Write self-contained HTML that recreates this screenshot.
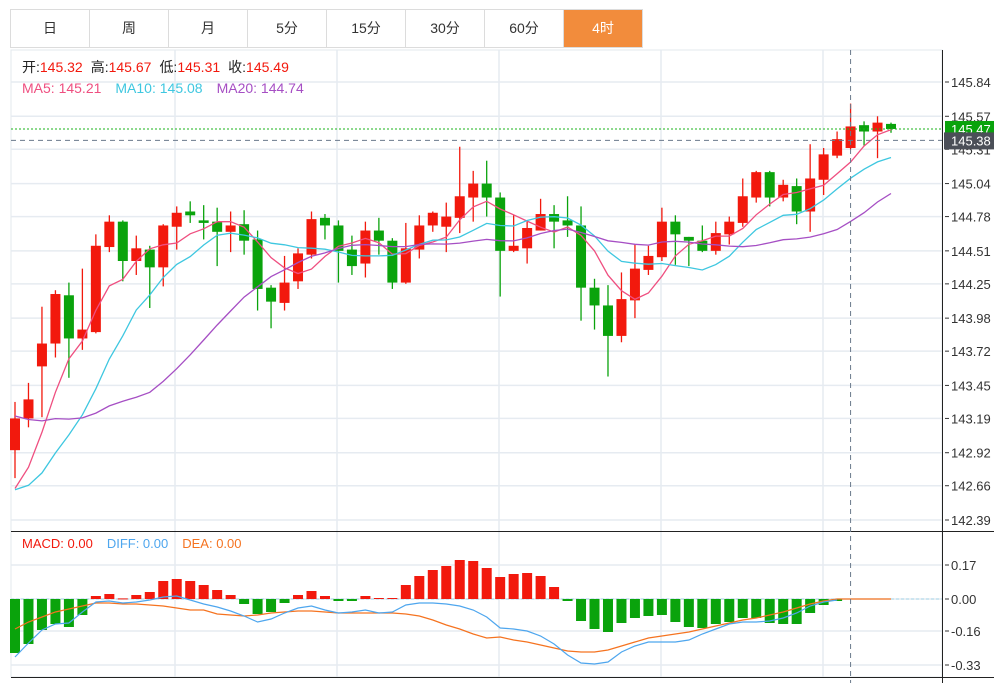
<!DOCTYPE html>
<html><head><meta charset="utf-8"><style>
body{margin:0;width:994px;height:683px;background:#fff;overflow:hidden;font-family:"Liberation Sans","Noto Sans CJK SC",sans-serif;}
#tabs{position:absolute;left:10px;top:9px;height:39px;display:flex;border:1px solid #dcdcdc;border-right:none;box-sizing:border-box;}
.tab{width:79px;height:37px;line-height:37px;text-align:center;font-size:14px;color:#333;border-right:1px solid #dcdcdc;box-sizing:border-box;}
.tab.active{background:#f28c3c;color:#fff;}
svg{position:absolute;left:0;top:0;}
</style></head><body>
<div id="tabs">
<div class="tab">日</div>
<div class="tab">周</div>
<div class="tab">月</div>
<div class="tab">5分</div>
<div class="tab">15分</div>
<div class="tab">30分</div>
<div class="tab">60分</div>
<div class="tab active">4时</div>
</div>
<svg id="chart" width="994" height="683" font-family="Liberation Sans, Noto Sans CJK SC, sans-serif"></svg>
<script>
const opens=[142.94,143.19,143.60,143.78,144.16,143.82,143.87,144.54,144.74,144.43,144.52,144.38,144.70,144.82,144.75,144.74,144.66,144.72,144.60,144.22,144.10,144.27,144.48,144.77,144.71,144.52,144.41,144.67,144.59,144.26,144.52,144.71,144.70,144.77,144.93,145.04,144.93,144.51,144.53,144.67,144.80,144.75,144.71,144.22,144.08,143.84,144.12,144.36,144.46,144.74,144.62,144.59,144.51,144.64,144.73,144.93,145.13,144.93,145.02,144.82,145.07,145.26,145.32,145.50,145.45,145.51];
const highs=[143.32,143.47,144.07,144.20,144.26,144.37,144.64,144.79,144.75,144.63,144.55,144.72,144.86,144.90,144.87,144.85,144.82,144.83,144.67,144.24,144.47,144.53,144.82,144.80,144.75,144.63,144.74,144.77,144.61,144.73,144.79,144.82,144.89,145.33,145.14,145.22,144.97,144.79,144.75,144.92,144.87,144.94,144.86,144.29,144.24,144.34,144.56,144.55,144.85,144.79,144.62,144.71,144.74,144.78,145.08,145.14,145.14,145.07,145.08,145.35,145.32,145.45,145.67,145.53,145.57,145.52];
const lows=[142.72,143.12,143.20,143.67,143.51,143.73,143.86,144.50,144.27,144.32,144.06,144.23,144.52,144.73,144.60,144.39,144.50,144.48,144.04,143.90,144.04,144.21,144.45,144.60,144.26,144.32,144.30,144.48,144.21,144.25,144.45,144.66,144.50,144.65,144.74,144.78,144.15,144.50,144.41,144.67,144.53,144.62,143.96,143.89,143.52,143.79,143.98,144.32,144.43,144.40,144.39,144.50,144.48,144.56,144.70,144.89,144.86,144.90,144.72,144.66,144.95,145.24,145.31,145.34,145.24,145.44];
const closes=[143.19,143.34,143.78,144.17,143.82,143.89,144.55,144.74,144.43,144.53,144.38,144.71,144.81,144.79,144.73,144.66,144.71,144.59,144.21,144.11,144.26,144.49,144.76,144.71,144.51,144.39,144.67,144.59,144.26,144.53,144.71,144.81,144.78,144.94,145.04,144.93,144.51,144.55,144.69,144.80,144.74,144.71,144.22,144.08,143.84,144.13,144.37,144.47,144.74,144.64,144.59,144.51,144.65,144.74,144.94,145.13,144.93,145.03,144.82,145.08,145.27,145.39,145.49,145.45,145.52,145.47];
const historyCloses=[143.9,144.0,143.8,143.9,143.7,143.8,143.6,143.7,143.9,143.6,143.0,142.8,142.6,142.4,142.3,142.5,142.4,142.6,142.5];
const macdHist=[-0.27,-0.225,-0.155,-0.125,-0.14,-0.08,0.015,0.025,0.003,0.02,0.035,0.09,0.10,0.09,0.07,0.045,0.02,-0.025,-0.075,-0.065,-0.02,0.02,0.04,0.015,-0.01,-0.01,0.015,0.005,0.005,0.07,0.115,0.145,0.165,0.195,0.19,0.155,0.11,0.125,0.13,0.115,0.06,-0.01,-0.11,-0.15,-0.165,-0.12,-0.095,-0.085,-0.08,-0.115,-0.14,-0.145,-0.125,-0.115,-0.095,-0.095,-0.12,-0.125,-0.125,-0.07,-0.03,-0.01,0,0,0,0];
const diffVals=[-0.29,-0.22,-0.155,-0.125,-0.12,-0.065,-0.015,-0.01,-0.02,-0.015,-0.005,0.01,0.015,-0.005,-0.025,-0.04,-0.06,-0.085,-0.115,-0.10,-0.07,-0.045,-0.035,-0.055,-0.07,-0.065,-0.055,-0.07,-0.065,-0.03,-0.02,-0.02,-0.025,-0.035,-0.055,-0.09,-0.145,-0.15,-0.16,-0.185,-0.225,-0.28,-0.32,-0.325,-0.315,-0.265,-0.235,-0.215,-0.215,-0.215,-0.205,-0.175,-0.15,-0.125,-0.115,-0.115,-0.11,-0.095,-0.07,-0.035,-0.015,-0.005,0,0,0,0];
const deaVals=[-0.15,-0.115,-0.09,-0.065,-0.05,-0.035,-0.02,-0.02,-0.025,-0.025,-0.03,-0.035,-0.045,-0.055,-0.055,-0.075,-0.08,-0.085,-0.08,-0.07,-0.065,-0.06,-0.06,-0.065,-0.07,-0.07,-0.07,-0.07,-0.07,-0.075,-0.085,-0.105,-0.13,-0.15,-0.175,-0.195,-0.19,-0.205,-0.215,-0.23,-0.245,-0.26,-0.265,-0.265,-0.255,-0.235,-0.215,-0.195,-0.185,-0.175,-0.165,-0.15,-0.135,-0.12,-0.105,-0.095,-0.08,-0.065,-0.045,-0.025,-0.01,0,0,0,0,0];
const priceTicks=[145.84,145.57,145.31,145.04,144.78,144.51,144.25,143.98,143.72,143.45,143.19,142.92,142.66,142.39];
const macdTicks=[0.17,0.00,-0.16,-0.33];
const lastPrice=145.47, crossPrice=145.38, crossIndex=62;

const NS='http://www.w3.org/2000/svg';
const svg=document.getElementById('chart');
function mk(tag,attrs,parent){const e=document.createElementNS(NS,tag);for(const k in attrs)e.setAttribute(k,attrs[k]);(parent||svg).appendChild(e);return e;}
const L=11,R=942;
function xOf(i){return 15+i*13.477;}
function yOf(p){return 82+(145.84-p)*(438/3.45);}
function yM(v){return 599-v*200;}
const RED='#f2190d',GREEN='#0aa30c';

// frame + grid
const grid=mk('g',{});


mk('rect',{x:L,y:50,width:R-L,height:627,fill:'none',stroke:'#e3e8ee'},grid);
priceTicks.forEach(t=>mk('line',{x1:L,x2:R,y1:yOf(t),y2:yOf(t),stroke:'#e6ebf1','stroke-width':1.5},grid));
[175,337,499,661,823].forEach(x=>mk('line',{x1:x,x2:x,y1:50,y2:677,stroke:'#e6ebf1','stroke-width':1.5},grid));
macdTicks.forEach(t=>mk('line',{x1:L,x2:R,y1:yM(t),y2:yM(t),stroke:'#e6ebf1','stroke-width':1.5},grid));
mk('line',{x1:L,x2:994,y1:531.5,y2:531.5,stroke:'#222'});
mk('line',{x1:L,x2:994,y1:677.5,y2:677.5,stroke:'#222'});
mk('line',{x1:R+0.5,x2:R+0.5,y1:50,y2:683,stroke:'#222'});

// axis labels
const ax=mk('g',{'font-size':13,fill:'#333'});


priceTicks.forEach(t=>{mk('line',{x1:R+3,x2:R+7,y1:yOf(t),y2:yOf(t),stroke:'#333'},ax);const tx=mk('text',{x:R+9,y:yOf(t)+5},ax);tx.textContent=t.toFixed(2);});
const axm=mk('g',{'font-size':13,fill:'#333'});


macdTicks.forEach(t=>{mk('line',{x1:R+3,x2:R+7,y1:yM(t),y2:yM(t),stroke:'#333'},axm);const tx=mk('text',{x:R+9,y:yM(t)+5},axm);tx.textContent=(t<0?'-':'')+Math.abs(t).toFixed(2);});

// candles
const cg=mk('g',{});


closes.forEach((c,i)=>{
  const o=opens[i],up=c>=o,col=up?RED:GREEN,x=xOf(i);
  const g=mk('g',{},cg);
  
  
  mk('line',{x1:x,x2:x,y1:yOf(highs[i]),y2:yOf(lows[i]),stroke:col,'stroke-width':1.3},g);
  const top=yOf(Math.max(o,c)),bot=yOf(Math.min(o,c));
  mk('rect',{x:x-5,y:top,width:10,height:Math.max(1.5,bot-top),fill:col},g);
});

// moving averages
const all=historyCloses.concat(closes),H=historyCloses.length;
function ma(n){return closes.map((_,i)=>{let s=0;for(let k=0;k<n;k++)s+=all[H+i-k];return s/n;});}
[[5,'#ef4f80','ma5-line'],[10,'#3ec7e0','ma10-line'],[20,'#a64fc4','ma20-line']].forEach(([n,col,name])=>{
  const pts=ma(n).map((v,i)=>xOf(i).toFixed(1)+','+yOf(v).toFixed(1)).join(' ');
  const pl=mk('polyline',{points:pts,fill:'none',stroke:col,'stroke-width':1.3});
  
  
});

// MACD
const mg=mk('g',{});


mk('line',{x1:L,x2:R,y1:yM(0),y2:yM(0),stroke:'#a8d8ea','stroke-dasharray':'3,2'},mg);
macdHist.forEach((v,i)=>{if(v===0)return;const y0=yM(0),y1=yM(v);
  const b=mk('rect',{x:xOf(i)-5,y:Math.min(y0,y1),width:10,height:Math.max(1,Math.abs(y1-y0)),fill:v>0?RED:GREEN},mg);
  
  
});
const dl=mk('polyline',{points:deaVals.map((v,i)=>xOf(i).toFixed(1)+','+yM(v).toFixed(1)).join(' '),fill:'none',stroke:'#f57320','stroke-width':1.2});


const df=mk('polyline',{points:diffVals.slice(0,62).map((v,i)=>xOf(i).toFixed(1)+','+yM(v).toFixed(1)).join(' '),fill:'none',stroke:'#4ea6ee','stroke-width':1.2});



// last price + crosshair
mk('line',{x1:L,x2:R,y1:yOf(lastPrice),y2:yOf(lastPrice),stroke:'#1ab31a','stroke-dasharray':'2,2'});
mk('line',{x1:L,x2:R,y1:yOf(crossPrice),y2:yOf(crossPrice),stroke:'#6b7a8c','stroke-dasharray':'5,4'});
mk('line',{x1:xOf(crossIndex),x2:xOf(crossIndex),y1:50,y2:683,stroke:'#6b7a8c','stroke-dasharray':'5,4'});
const lp=mk('g',{});


mk('rect',{x:R+3,y:yOf(lastPrice)-8,width:52,height:16,fill:'#0aa30c'},lp);
let t=mk('text',{x:R+9,y:yOf(lastPrice)+5,'font-size':13,fill:'#fff'},lp);t.textContent=lastPrice.toFixed(2);
const cp=mk('g',{});


mk('rect',{x:R+2,y:yOf(crossPrice)-8,width:52,height:17,fill:'#4b4f58'},cp);
t=mk('text',{x:R+9,y:yOf(crossPrice)+5,'font-size':13,fill:'#fff'},cp);t.textContent=crossPrice.toFixed(2);
</script>
<svg width="994" height="683" style="pointer-events:none" font-family="Liberation Sans, Noto Sans CJK SC, sans-serif" font-size="14">
<g>
<text x="22" y="72"><tspan fill="#222">开:</tspan><tspan fill="#f2190d">145.32</tspan><tspan fill="#222" dx="8">高:</tspan><tspan fill="#f2190d">145.67</tspan><tspan fill="#222" dx="8">低:</tspan><tspan fill="#f2190d">145.31</tspan><tspan fill="#222" dx="8">收:</tspan><tspan fill="#f2190d">145.49</tspan></text>
</g>
<g>
<text x="22" y="93"><tspan fill="#ef4f80">MA5: 145.21</tspan><tspan fill="#3ec7e0" dx="14">MA10: 145.08</tspan><tspan fill="#a64fc4" dx="14">MA20: 144.74</tspan></text>
</g>
<g>
<text x="22" y="548" font-size="13"><tspan fill="#f2190d">MACD: 0.00</tspan><tspan fill="#4ea6ee" dx="14">DIFF: 0.00</tspan><tspan fill="#f57320" dx="14">DEA: 0.00</tspan></text>
</g>
</svg>
</body></html>
